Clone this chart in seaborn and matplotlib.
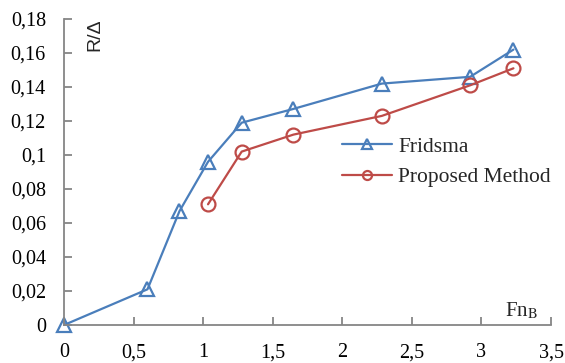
import matplotlib
matplotlib.use("Agg")
import matplotlib.pyplot as plt
import seaborn as sns
import pandas as pd

# Resistance ratio R/Δ against beam Froude number
fridsma_fn = [0.0, 0.60, 0.83, 1.035, 1.277, 1.644, 2.284, 2.919, 3.23]
fridsma_r = [0.0, 0.021, 0.067, 0.096, 0.119, 0.127, 0.142, 0.146, 0.162]
proposed_fn = [1.035, 1.277, 1.649, 2.284, 2.919, 3.23]
proposed_r = [0.071, 0.102, 0.112, 0.123, 0.141, 0.151]

series_names = ["Fridsma", "Proposed Method"]
series_colors = ["#4A7EBB", "#BE4B48"]

x_ticks = [0, 0.5, 1, 1.5, 2, 2.5, 3, 3.5]
x_tick_labels = ["0", "0,5", "1", "1,5", "2", "2,5", "3", "3,5"]
y_ticks = [0, 0.02, 0.04, 0.06, 0.08, 0.10, 0.12, 0.14, 0.16, 0.18]
y_tick_labels = ["0", "0,02", "0,04", "0,06", "0,08", "0,1", "0,12", "0,14", "0,16", "0,18"]

df = pd.concat([
    pd.DataFrame({"Fn": fridsma_fn, "R": fridsma_r, "series": series_names[0]}),
    pd.DataFrame({"Fn": proposed_fn, "R": proposed_r, "series": series_names[1]}),
], ignore_index=True)

sns.set_theme(style="white")
plt.rcParams["font.family"] = ["Liberation Serif", "DejaVu Serif"]
plt.rcParams["mathtext.fontset"] = "stix"

fig = plt.figure(figsize=(5.65, 3.63), dpi=100)
ax = fig.add_axes([64 / 565, 1 - 325 / 363, 487 / 565, 306 / 363])

sns.lineplot(
    data=df, x="Fn", y="R", hue="series", style="series",
    palette=dict(zip(series_names, series_colors)),
    markers={"Fridsma": "^", "Proposed Method": "o"},
    dashes=False, sort=False, ax=ax, legend=False,
    linewidth=1.6, markersize=10, markeredgewidth=1.6,
)
for line, col in zip(ax.lines, series_colors):
    line.set_markerfacecolor("none")
    line.set_markeredgecolor(col)
    line.set_clip_on(False)

ax.set_xlim(0, 3.5)
ax.set_ylim(0, 0.18)
ax.set_xticks(x_ticks)
ax.set_xticklabels(x_tick_labels)
ax.set_yticks(y_ticks)
ax.set_yticklabels(y_tick_labels)
ax.set_xlabel("")
ax.set_ylabel("")

for side in ["top", "right"]:
    ax.spines[side].set_visible(False)
for side in ["left", "bottom"]:
    ax.spines[side].set_color("#868686")
    ax.spines[side].set_linewidth(1.3)
ax.tick_params(axis="both", direction="in", length=6, width=1.3, color="#868686",
               labelsize=14.5, labelcolor="black", pad=13)
ax.tick_params(axis="x", bottom=True)
ax.tick_params(axis="y", left=True)

ax.text(0.94, 0.045, r"Fn$_{\mathrm{B}}$", transform=ax.transAxes,
        ha="center", va="center", fontsize=15)
fig.text(95 / 565, 1 - 35 / 363, "R/Δ", rotation=90, ha="center", va="center",
         fontsize=14, family=["Liberation Sans", "DejaVu Sans"])

handles = ax.lines[:2]
ax.legend(handles, series_names, loc="center left",
          bbox_to_anchor=(342 / 565, 1 - 162 / 363), bbox_transform=fig.transFigure,
          frameon=False, fontsize=15.5, handlelength=2.3, handletextpad=0.3,
          labelspacing=0.5, borderpad=0, borderaxespad=0, markerscale=0.65)

fig.savefig("out.png", dpi=100)
